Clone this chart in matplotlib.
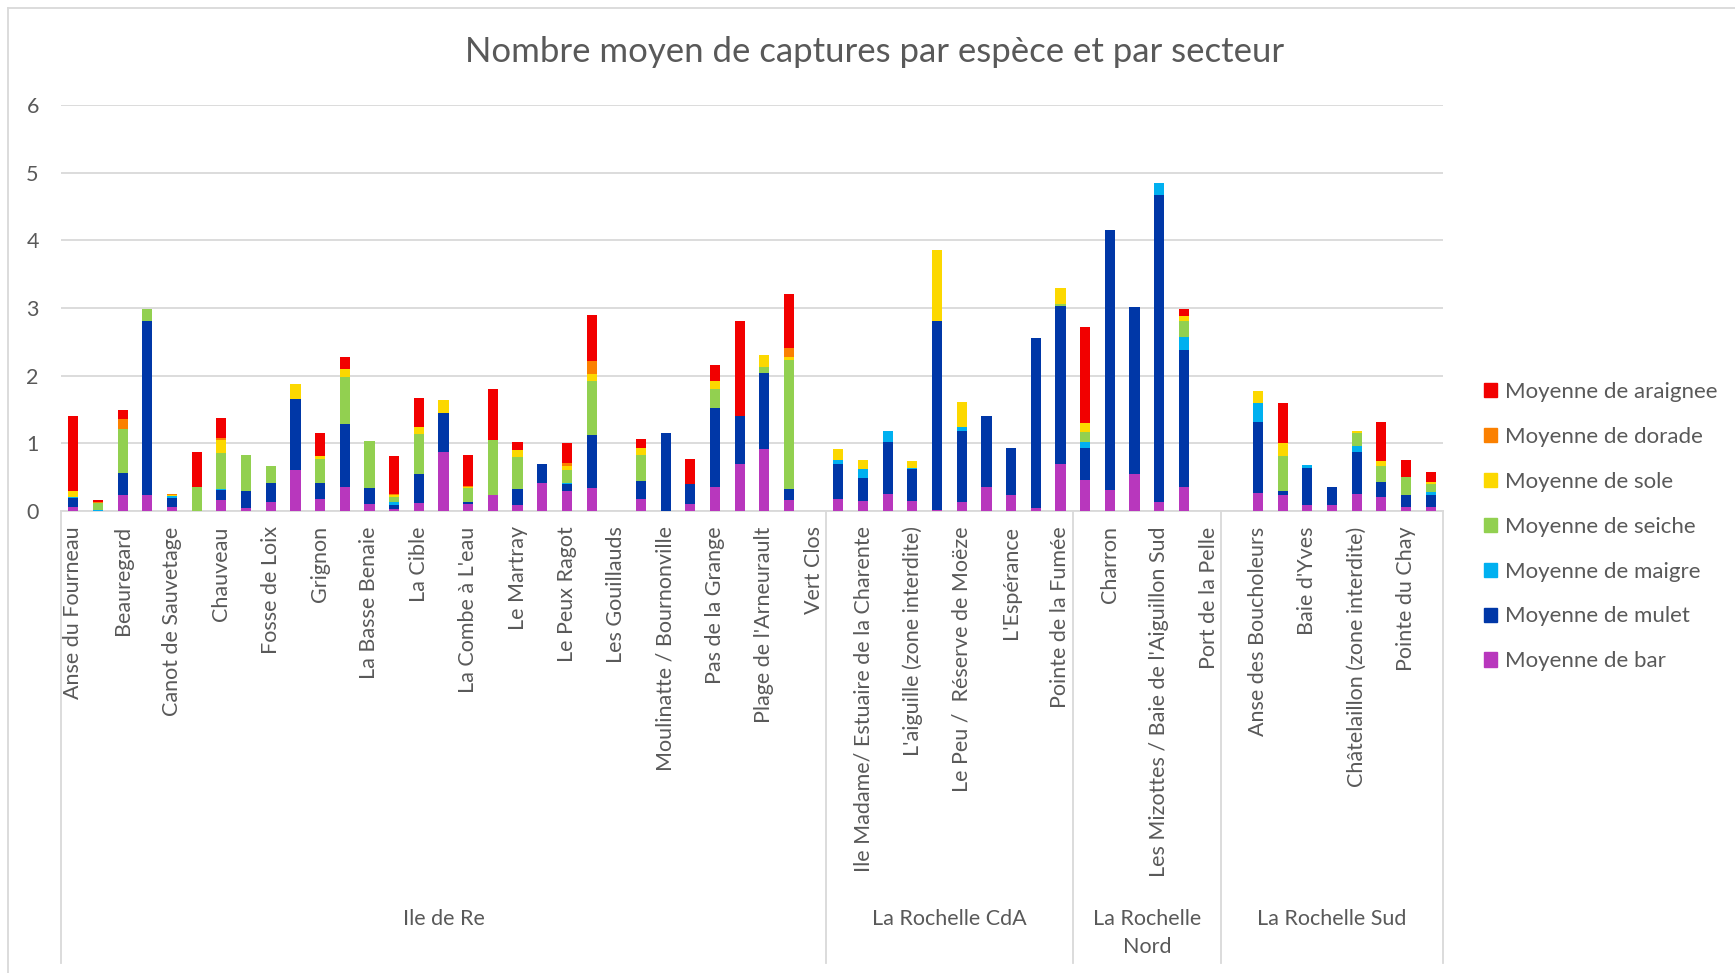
import matplotlib
matplotlib.use("Agg")
import matplotlib.pyplot as plt
import matplotlib.transforms as mtransforms
from matplotlib.lines import Line2D
from matplotlib.patches import Patch
import numpy as np

plt.rcParams["font.family"] = ["Lato", "DejaVu Sans"]
GREY = "#595959"

# sites (Excel n'affiche qu'un libellé sur deux : les autres restent vides)
sites = ["Anse du Fourneau", "", "Beauregard", "", "Canot de Sauvetage", "",
         "Chauveau", "", "Fosse de Loix", "", "Grignon", "", "La Basse Benaie", "",
         "La Cible", "", "La Combe à L'eau", "", "Le Martray", "", "Le Peux Ragot", "",
         "Les Gouillauds", "", "Moulinatte / Bournonville", "", "Pas de la Grange", "",
         "Plage de l'Arneurault", "", "Vert Clos",
         "", "Ile Madame/ Estuaire de la Charente", "", "L'aiguille (zone interdite)", "",
         "Le Peu /  Réserve de Moëze", "", "L'Espérance", "", "Pointe de la Fumée",
         "", "Charron", "", "Les Mizottes / Baie de l'Aiguillon Sud", "", "Port de la Pelle",
         "", "Anse des Boucholeurs", "", "Baie d'Yves", "", "Châtelaillon (zone interdite)", "",
         "Pointe du Chay", ""]
secteurs = ["Ile de Re", "La Rochelle CdA", "La Rochelle\nNord", "La Rochelle Sud"]
n_sites = [31, 10, 6, 9]

bar = [0.065, 0, 0.235, 0.235, 0.065, 0, 0.16, 0.045, 0.14, 0.60, 0.18, 0.35, 0.11, 0.03,
       0.12, 0.87, 0.11, 0.235, 0.09, 0.41, 0.295, 0.34, 0, 0.18, 0, 0.11, 0.355, 0.695,
       0.915, 0.16, 0,
       0.18, 0.15, 0.245, 0.15, 0.01, 0.13, 0.355, 0.235, 0.045, 0.695,
       0.46, 0.31, 0.545, 0.13, 0.355, 0,
       0, 0.26, 0.235, 0.09, 0.09, 0.245, 0.205, 0.06, 0.06]
mulet = [0.125, 0, 0.33, 2.58, 0.13, 0, 0.15, 0.25, 0.27, 1.05, 0.24, 0.93, 0.23, 0.06,
         0.42, 0.58, 0.025, 0, 0.235, 0.285, 0.11, 0.78, 0, 0.265, 1.16, 0.295, 1.16, 0.705,
         1.12, 0.16, 0,
         0.51, 0.345, 0.78, 0.47, 2.80, 1.05, 1.045, 0.695, 2.51, 2.34,
         0.47, 3.84, 2.47, 4.54, 2.03, 0,
         0, 1.06, 0.065, 0.54, 0.26, 0.63, 0.225, 0.18, 0.17]
maigre = [0.01, 0.02, 0, 0, 0.025, 0, 0.02, 0, 0, 0, 0, 0, 0, 0.05,
          0.01, 0, 0, 0, 0, 0, 0.01, 0, 0, 0, 0, 0, 0, 0,
          0, 0, 0,
          0.07, 0.13, 0.15, 0.01, 0, 0.065, 0, 0, 0, 0,
          0.095, 0, 0, 0.17, 0.19, 0,
          0, 0.28, 0, 0.055, 0, 0.09, 0, 0, 0.055]
seiche = [0, 0.10, 0.64, 0.17, 0, 0.35, 0.53, 0.53, 0.25, 0, 0.35, 0.70, 0.70, 0.065,
          0.585, 0, 0.20, 0.81, 0.48, 0, 0.19, 0.80, 0, 0.385, 0, 0, 0.29, 0,
          0.095, 1.91, 0,
          0, 0, 0, 0, 0, 0, 0, 0, 0, 0.025,
          0.14, 0, 0, 0, 0.235, 0,
          0, 0, 0.52, 0, 0, 0.19, 0.235, 0.26, 0.12]
sole = [0.10, 0, 0, 0, 0.01, 0, 0.19, 0, 0, 0.22, 0.05, 0.12, 0, 0.035,
        0.10, 0.19, 0.015, 0, 0.09, 0, 0.055, 0.11, 0, 0.10, 0, 0, 0.12, 0,
        0.17, 0.04, 0,
        0.16, 0.13, 0, 0.11, 1.05, 0.36, 0, 0, 0, 0.24,
        0.14, 0, 0, 0, 0.075, 0,
        0, 0.18, 0.18, 0, 0, 0.025, 0.07, 0, 0.02]
dorade = [0, 0.01, 0.16, 0, 0.02, 0, 0.03, 0, 0, 0, 0, 0, 0, 0.015,
          0, 0, 0.02, 0, 0, 0, 0.045, 0.18, 0, 0, 0, 0, 0, 0,
          0, 0.14, 0,
          0, 0, 0, 0, 0, 0, 0, 0, 0, 0,
          0, 0, 0, 0, 0, 0,
          0, 0, 0, 0, 0, 0, 0, 0, 0]
araignee = [1.10, 0.03, 0.13, 0, 0, 0.52, 0.29, 0, 0, 0, 0.33, 0.17, 0, 0.56,
            0.43, 0, 0.46, 0.76, 0.12, 0, 0.30, 0.68, 0, 0.14, 0, 0.36, 0.235, 1.41,
            0, 0.79, 0,
            0, 0, 0, 0, 0, 0, 0, 0, 0, 0,
            1.41, 0, 0, 0, 0.10, 0,
            0, 0, 0.60, 0, 0, 0, 0.58, 0.26, 0.15]

series = [("Moyenne de bar", bar, "#b837bd"),
          ("Moyenne de mulet", mulet, "#0037a7"),
          ("Moyenne de maigre", maigre, "#00b0f0"),
          ("Moyenne de seiche", seiche, "#92d050"),
          ("Moyenne de sole", sole, "#fcd800"),
          ("Moyenne de dorade", dorade, "#fb8000"),
          ("Moyenne de araignee", araignee, "#f20000")]

W, H = 1735, 973
fig = plt.figure(figsize=(W / 100, H / 100), dpi=100)
ax = fig.add_axes([61 / W, 1 - 511 / H, (1443 - 61) / W, (511 - 105) / H])

x = np.arange(len(sites))
bottom = np.zeros(len(sites))
handles = []
for name, vals, col in series:
    ax.bar(x, vals, 0.41, bottom=bottom, color=col, zorder=3)
    bottom += np.array(vals)
    handles.append(Patch(color=col, label=name))

ax.set_xlim(-0.5, len(sites) - 0.5)
ax.set_ylim(0, 6)
ax.set_yticks(range(7))
ax.yaxis.grid(True, color="#d9d9d9", lw=1.3, zorder=0)
for s in ["top", "right", "left"]:
    ax.spines[s].set_visible(False)
ax.spines["bottom"].set_color("#d9d9d9")
ax.spines["bottom"].set_linewidth(1.3)
ax.tick_params(axis="y", length=0, pad=16, labelsize=15.5, labelcolor=GREY)
ax.set_xticks(x)
ax.set_xticklabels(sites, rotation=90, va="top", ha="center")
ax.tick_params(axis="x", length=0, pad=11, labelsize=15.5, labelcolor=GREY)

# secteurs + séparateurs
tr = mtransforms.blended_transform_factory(ax.transData, fig.transFigure)
edges = np.concatenate([[0], np.cumsum(n_sites)]) - 0.5
for e in edges:
    ax.add_line(Line2D([e, e], [1 - 511 / H, 1 - 963 / H], transform=tr,
                       color="#d9d9d9", lw=1.3, clip_on=False))
for k, name in enumerate(secteurs):
    xc = (edges[k] + edges[k + 1]) / 2
    fig.text(xc, 1 - 909 / H, name, transform=tr, ha="center", va="top",
             fontsize=15.5, color=GREY, linespacing=1.5)

fig.text(0.504, 1 - 52 / H, "Nombre moyen de captures par espèce et par secteur",
         ha="center", va="center", fontsize=25, color=GREY)

fig.legend(handles=handles[::-1], loc="upper left",
           bbox_to_anchor=(1464 / W, 1 - 362 / H), frameon=False,
           fontsize=16, labelcolor=GREY, handlelength=0.6, handleheight=0.6,
           handletextpad=0.35, labelspacing=1.12)

# cadre du graphique
fig.add_artist(Line2D([8 / W, 8 / W], [0, 1 - 8 / H], color="#d9d9d9", lw=1.3))
fig.add_artist(Line2D([8 / W, 1], [1 - 8 / H, 1 - 8 / H], color="#d9d9d9", lw=1.3))

fig.savefig("out.png", dpi=100)
